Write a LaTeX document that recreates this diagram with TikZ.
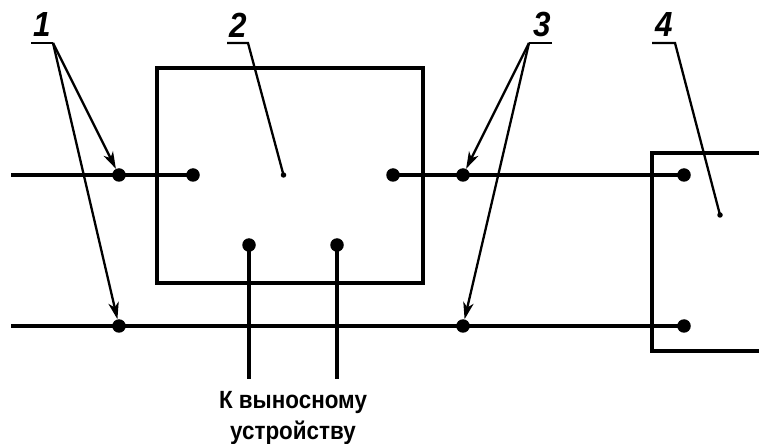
\documentclass[tikz,border=0pt]{standalone}
\usepackage{fontspec}
\setmainfont{Liberation Sans}
\usetikzlibrary{arrows.meta}
\newcommand{\narrowtext}[1]{\scalebox{0.9}[1]{#1}}
\tikzset{
  x=1bp,y=-1bp,
  wire/.style={line width=3.6bp,line cap=butt},
  frame/.style={line width=4.2bp,line join=miter},
  leader/.style={line width=2.3bp},
  arrowleader/.style={leader,-{Stealth[length=17bp,width=10.5bp,inset=5bp]},shorten >=0bp},
  bigdot/.style={circle,fill=black,inner sep=0pt,minimum size=13.5bp},
  smalldot/.style={circle,fill=black,inner sep=0pt,minimum size=5.5bp},
  numlabel/.style={inner sep=0pt,font=\fontsize{35}{35}\selectfont\itshape\bfseries},
  caption/.style={inner sep=0pt,align=center,font=\fontsize{25}{31}\selectfont\bfseries}
}
\begin{document}
\begin{tikzpicture}
\useasboundingbox (0,0) rectangle (759,444);
% frames
\draw[frame] (157,68) rectangle (423,283);
\draw[frame] (759,153) -- (652,153) -- (652,351) -- (759,351);
% free ends
\coordinate (w1) at (11,175);
\coordinate (w2) at (11,326);
\coordinate (v1) at (249,379);
\coordinate (v2) at (337,379);
\coordinate (l1) at (31,43);
\coordinate (k1) at (53,43);
\coordinate (l2) at (227,43);
\coordinate (k2) at (248,43);
\coordinate (l3) at (552,43);
\coordinate (k3) at (529,43);
\coordinate (l4) at (652,43);
\coordinate (k4) at (675,43);
% dots
\node[bigdot] (a1) at (119,175) {};
\node[bigdot] (a2) at (193,175) {};
\node[bigdot] (a3) at (393,175) {};
\node[bigdot] (a4) at (463,175) {};
\node[bigdot] (a5) at (684,175) {};
\node[bigdot] (b1) at (119,326) {};
\node[bigdot] (b2) at (463,326) {};
\node[bigdot] (b3) at (684,326) {};
\node[bigdot] (c1) at (249,245) {};
\node[bigdot] (c2) at (337,245) {};
\node[smalldot] (s2) at (283.5,175) {};
\node[smalldot] (s4) at (720,215) {};
% wires
\draw[wire] (w1) -- (a1.center) -- (a2.center);
\draw[wire] (a3.center) -- (a4.center) -- (a5.center);
\draw[wire] (w2) -- (b1.center) -- (b2.center) -- (b3.center);
\draw[wire] (c1.center) -- (v1);
\draw[wire] (c2.center) -- (v2);
% leaders
\draw[leader] (l1) -- (k1);
\draw[leader] (l2) -- (k2) -- (s2.center);
\draw[leader] (l3) -- (k3);
\draw[leader] (l4) -- (k4) -- (s4.center);
\draw[arrowleader] (k1) -- (a1);
\draw[arrowleader] (k1) -- (b1);
\draw[arrowleader] (k3) -- (a4);
\draw[arrowleader] (k3) -- (b2);
% labels
\node[numlabel] (n1) at (42,25) {\narrowtext{1}};
\node[numlabel] (n2) at (238,25) {\narrowtext{2}};
\node[numlabel] (n3) at (542,25) {\narrowtext{3}};
\node[numlabel] (n4) at (664,25) {\narrowtext{4}};
\node[caption] (cap) at (293,418) {\narrowtext{\begin{tabular}{@{}c@{}}К выносному\\устройству\end{tabular}}};
\end{tikzpicture}
\end{document}
